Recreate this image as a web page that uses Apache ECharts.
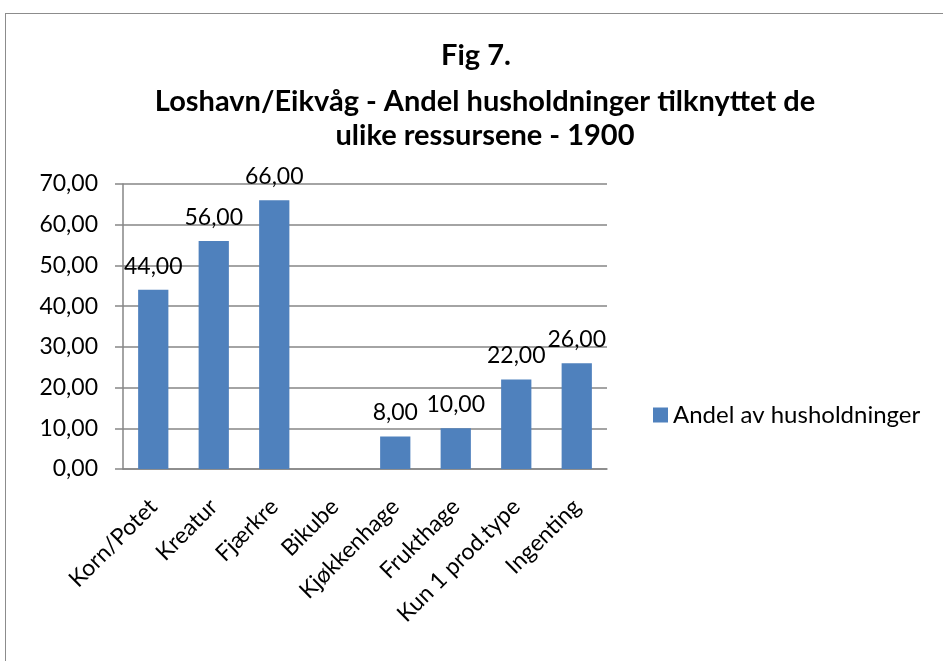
<!DOCTYPE html>
<html>
<head>
<meta charset="utf-8">
<script src="https://cdn.jsdelivr.net/npm/echarts@6/dist/echarts.min.js"></script>
<style>
  html, body { margin: 0; padding: 0; background: #fff; }
  #frame { position: absolute; left: 5px; top: 13px; width: 960px; height: 700px; border: 1px solid #8c8c8c; }
  #bars { position: absolute; left: 0; top: 0; width: 943px; height: 661px; }
</style>
</head>
<body>
<div id="frame"></div>
<div id="bars"></div>
<script>
// kategorier og verdier
var kategorier = ['Korn/Potet', 'Kreatur', 'Fjærkre', 'Bikube', 'Kjøkkenhage', 'Frukthage', 'Kun 1 prod.type', 'Ingenting'];
var andel = [44, 56, 66, 0, 8, 10, 22, 26];
var serieNavn = 'Andel av husholdninger';

var fmt = function (v) { return v.toFixed(2).replace('.', ','); };
var font = 'Lato, "Liberation Sans", sans-serif';

var myChart = echarts.init(document.getElementById('bars'));

option = {
    animation: false,
    title: [
        {
            text: 'Fig 7.',
            left: 471,
            textAlign: 'center',
            top: 34,
            textStyle: { fontFamily: font, fontSize: 29, fontWeight: 'bold', color: '#000', lineHeight: 34 }
        },
        {
            text: 'Loshavn/Eikvåg - Andel husholdninger tilknyttet de\nulike ressursene - 1900',
            left: 480,
            textAlign: 'center',
            top: 80,
            textStyle: { fontFamily: font, fontSize: 29, fontWeight: 'bold', color: '#000', lineHeight: 34 }
        }
    ],
    legend: {
        data: [serieNavn],
        orient: 'vertical',
        left: 648,
        top: 398,
        itemWidth: 15,
        itemHeight: 15,
        itemGap: 6,
        icon: 'rect',
        textStyle: { fontFamily: font, fontSize: 24, color: '#000' }
    },
    grid: {
        left: 123,
        right: 336,
        top: 184,
        bottom: 192
    },
    xAxis: {
        type: 'category',
        data: kategorier,
        axisLine: { lineStyle: { color: '#868686', width: 1.5 } },
        axisTick: { length: 8, lineStyle: { color: '#868686', width: 1.5 } },
        axisLabel: { rotate: 45, fontFamily: font, fontSize: 23, color: '#000', interval: 0, margin: 34 }
    },
    yAxis: {
        type: 'value',
        min: 0,
        max: 70,
        interval: 10,
        axisLine: { show: true, lineStyle: { color: '#868686', width: 1.5 } },
        axisTick: { show: true, length: 8, lineStyle: { color: '#868686', width: 1.5 } },
        splitLine: { lineStyle: { color: '#868686', width: 1.5 } },
        axisLabel: { formatter: fmt, fontFamily: font, fontSize: 23, color: '#000', margin: 25 }
    },
    series: [
        {
            name: serieNavn,
            type: 'bar',
            data: andel,
            barWidth: '50%',
            itemStyle: { color: '#4F81BD' },
            label: {
                show: true,
                position: 'top',
                distance: 12,
                formatter: function (p) { return p.value === 0 ? '' : fmt(p.value); },
                fontFamily: font,
                fontSize: 23,
                color: '#000'
            }
        }
    ]
};

myChart.setOption(option);
</script>
</body>
</html>
